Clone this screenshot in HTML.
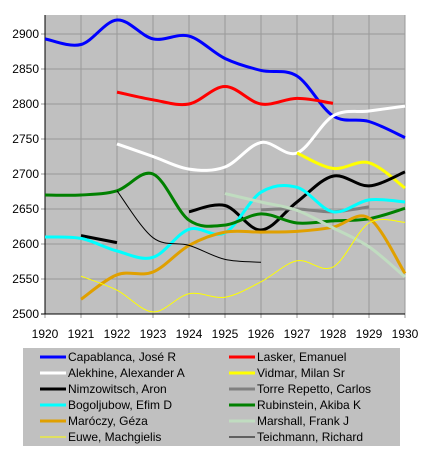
<!DOCTYPE html>
<html><head><meta charset="utf-8"><style>
html,body{margin:0;padding:0;background:#fff;}
svg{display:block;font-family:"Liberation Sans",sans-serif;}
</style></head><body>
<svg id="chart" width="426" height="452" xmlns="http://www.w3.org/2000/svg">
<rect x="45" y="15" width="360" height="299" fill="#c0c0c0"/>
<g id="grid"></g><g id="axes"></g><g id="series"></g>
<rect x="45" y="15" width="360" height="299" fill="none" stroke="#000" stroke-width="0"/>
<rect x="23" y="348" width="377" height="98" fill="#c0c0c0"/>
<g id="legend"></g>
</svg>
<script>
const years=[1920,1921,1922,1923,1924,1925,1926,1927,1928,1929,1930];
const yTicks=[2500,2550,2600,2650,2700,2750,2800,2850,2900];
const names=["Capablanca, José R","Lasker, Emanuel","Alekhine, Alexander A","Vidmar, Milan Sr","Nimzowitsch, Aron","Torre Repetto, Carlos","Bogoljubow, Efim D","Rubinstein, Akiba K","Maróczy, Géza","Marshall, Frank J","Euwe, Machgielis","Teichmann, Richard"];
const colors=["#0000ff","#ff0000","#ffffff","#ffff00","#000000","#808080","#00ffff","#008000","#e0a000","#c0dcc0","#ffff00","#000000"];
const widths=[3,3,3,3,3,3,3,3,3,3,1,1];
// values per year 1920..1930, null = no data; segments split at nulls
const capablanca=[2893,2885,2920,2893,2897,2865,2848,2840,2783,2775,2752];
const lasker=[null,null,2817,2806,2800,2825,2800,2808,2801,null,null];
const alekhine=[null,null,2743,2725,2707,2710,2745,2730,2783,2790,2797];
const vidmar=[null,null,null,null,null,null,null,2730,2708,2716,2680];
const nimzowitsch=[null,2612,2602,null,2646,2655,2620,2660,2697,2683,2703];
const torre=[null,null,null,null,null,null,2649,2650,2646,2653,null];
const bogoljubow=[2610,2608,2590,2581,2621,2616,2674,2681,2646,2663,2660];
const rubinstein=[2670,2670,2676,2700,2634,2627,2643,2630,2633,2636,2651];
const maroczy=[null,2521,2556,2560,2598,2617,2617,2618,2624,2637,2558];
const marshall=[null,null,null,null,null,2672,2660,2648,2623,2596,2553];
const euwe=[null,2554,2534,2503,2529,2524,2546,2576,2567,2630,2631];
const teichmann=[null,null,2676,2609,2598,2578,2574,null,null,null,null];
const seriesData=[capablanca,lasker,alekhine,vidmar,nimzowitsch,torre,bogoljubow,rubinstein,maroczy,marshall,euwe,teichmann];
const NS="http://www.w3.org/2000/svg";
const X0=45,X1=405,Y0=314,Y1=34;
function xs(yr){return X0+(yr-1920)*(X1-X0)/10;}
function ys(v){return Y0-(v-2500)*(Y0-Y1)/400;}
function mk(t,a,p){const e=document.createElementNS(NS,t);for(const k in a)e.setAttribute(k,a[k]);p.appendChild(e);return e;}
const grid=document.getElementById('grid'),axes=document.getElementById('axes');
years.forEach(y=>{
 const l=mk('line',{x1:xs(y),x2:xs(y),y1:15,y2:318,stroke:'#999'},grid);
 
 
 const t=mk('text',{x:xs(y),y:338,'text-anchor':'middle','font-size':'12'},axes);
 t.textContent=y;
 
 
});
yTicks.forEach(v=>{
 const l=mk('line',{x1:41,x2:405,y1:ys(v),y2:ys(v),stroke:'#999'},grid);
 
 
 const t=mk('text',{x:39,y:ys(v)+4,'text-anchor':'end','font-size':'12'},axes);
 t.textContent=v;
 
 
});
mk('line',{x1:45,x2:45,y1:15,y2:314,stroke:'#000'},axes);
mk('line',{x1:41,x2:405,y1:314,y2:314,stroke:'#000'},axes);
function path(pts){
 if(pts.length<2)return '';
 let d='M'+pts[0][0]+','+pts[0][1];
 for(let i=0;i<pts.length-1;i++){
  const p0=pts[i-1]||pts[i],p1=pts[i],p2=pts[i+1],p3=pts[i+2]||p2;
  const c1=[p1[0]+(p2[0]-p0[0])/6,p1[1]+(p2[1]-p0[1])/6];
  const c2=[p2[0]-(p3[0]-p1[0])/6,p2[1]-(p3[1]-p1[1])/6];
  d+=' C'+c1+' '+c2+' '+p2;
 }
 return d;
}
const sg=document.getElementById('series');
seriesData.forEach((arr,si)=>{
 let segs=[],cur=[];
 arr.forEach((v,i)=>{if(v==null){if(cur.length)segs.push(cur);cur=[];}else cur.push([xs(years[i]),ys(v)]);});
 if(cur.length)segs.push(cur);
 segs.forEach(s=>{
  const p=mk('path',{d:path(s),fill:'none',stroke:colors[si],'stroke-width':widths[si],'stroke-linejoin':'round'},sg);
  
  
 });
});
const lg=document.getElementById('legend');
names.forEach((n,i)=>{
 const col=i%2,row=Math.floor(i/2);
 const lx=col?229:40,y=357+row*16;
 const g=mk('g',{},lg);
 
 
 mk('line',{x1:lx,x2:lx+26,y1:y,y2:y,stroke:colors[i],'stroke-width':widths[i]},g);
 const t=mk('text',{x:lx+28,y:y+4,'font-size':'12'},g);
 t.textContent=n;
});
</script>
</body></html>
